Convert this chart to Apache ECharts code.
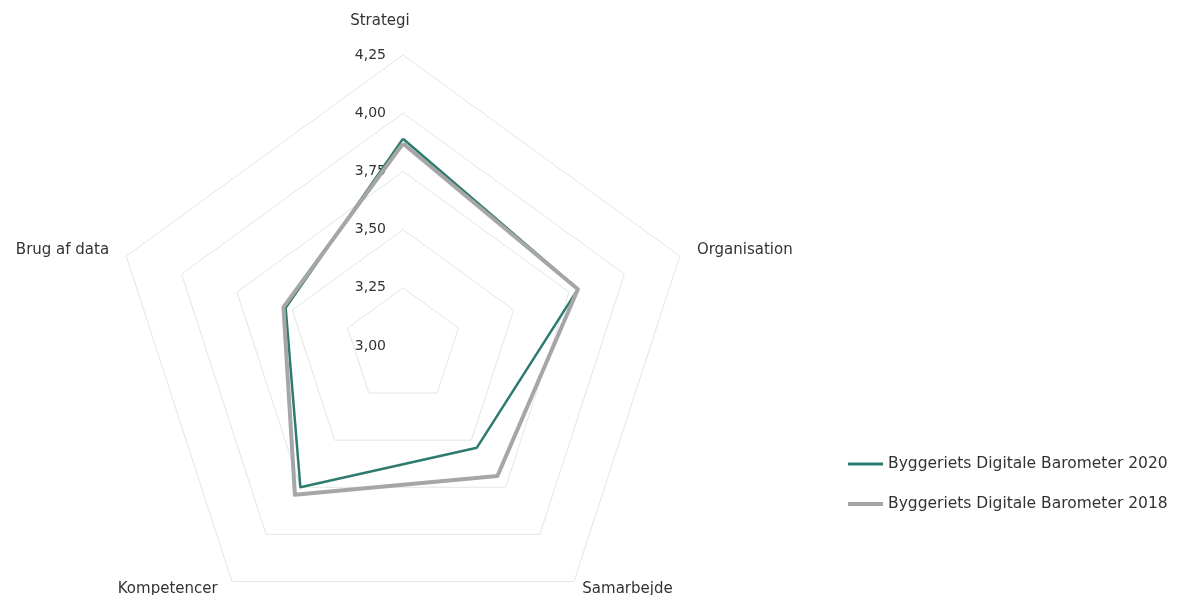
<!DOCTYPE html>
<html>
<head>
<meta charset="utf-8">
<script src="https://cdn.jsdelivr.net/npm/echarts@6/dist/echarts.min.js"></script>
<style>
  html, body { margin: 0; padding: 0; background: #fff; }
  #chart { width: 1178px; height: 595px; }
</style>
</head>
<body>
<div id="chart"></div>
<script>
// axes in drawing order (ECharts walks the radar counter-clockwise from the top)
const indicators = ['Strategi', 'Brug af data', 'Kompetencer', 'Samarbejde', 'Organisation']
const data2020 = [3.89, 3.53, 3.75, 3.54, 3.79]
const data2018 = [3.87, 3.54, 3.79, 3.69, 3.79]
const seriesNames = ['Byggeriets Digitale Barometer 2020', 'Byggeriets Digitale Barometer 2018']
const axisMin = 3
const axisMax = 4.25

const chart = echarts.init(document.getElementById('chart'))
const fontFamily = '"DejaVu Sans", sans-serif'

// per-axis tweaks of the name placement
const nameGaps = [26, 18, 9, 9, 18]
const namePads = [[0, 46, 0, 0], null, [0, 9, 0, 0], [0, 0, 0, 3], null]

const indicatorOpts = indicators.map((name, i) => {
  const opt = { name, min: axisMin, max: axisMax, nameGap: nameGaps[i] }
  if (namePads[i]) {
    opt.nameTextStyle = { color: '#333', fontSize: 15, fontFamily, padding: namePads[i] }
  }
  if (i === 0) {
    // only the vertical axis carries the tick labels
    opt.axisLabel = {
      show: true,
      color: '#333',
      fontSize: 14,
      fontFamily,
      margin: 17,
      formatter: v => v.toFixed(2).replace('.', ',')
    }
  }
  return opt
})

chart.setOption({
  backgroundColor: '#fff',
  animation: false,
  legend: {
    orient: 'vertical',
    left: 843,
    top: 451,
    itemGap: 24,
    itemWidth: 35,
    itemHeight: 12,
    textStyle: { color: '#333', fontSize: 15.5, fontFamily },
    data: [
      { name: seriesNames[0], icon: 'path://M0,0L0,0M0,4.5L36,4.5L36,7.5L0,7.5ZM0,12L0,12' },
      { name: seriesNames[1], icon: 'path://M0,0L0,0M0,4L36,4L36,8L0,8ZM0,12L0,12' }
    ]
  },
  radar: {
    center: [403, 346],
    radius: 291,
    startAngle: 90,
    splitNumber: 5,
    shape: 'polygon',
    nameGap: 18,
    axisName: { color: '#333', fontSize: 15, fontFamily },
    axisLine: { show: false },
    axisTick: { show: false },
    axisLabel: { show: false },
    splitArea: { show: false },
    splitLine: { lineStyle: { color: '#dde9e6', width: 1 } },
    indicator: indicatorOpts
  },
  series: [
    {
      type: 'radar',
      symbol: 'none',
      data: [
        {
          name: seriesNames[0],
          value: data2020,
          lineStyle: { color: '#2e7a6e', width: 2.5 },
          itemStyle: { color: '#2e7a6e' }
        },
        {
          name: seriesNames[1],
          value: data2018,
          lineStyle: { color: '#a6a6a6', width: 4 },
          itemStyle: { color: '#a6a6a6' }
        }
      ]
    }
  ]
})
</script>
</body>
</html>
